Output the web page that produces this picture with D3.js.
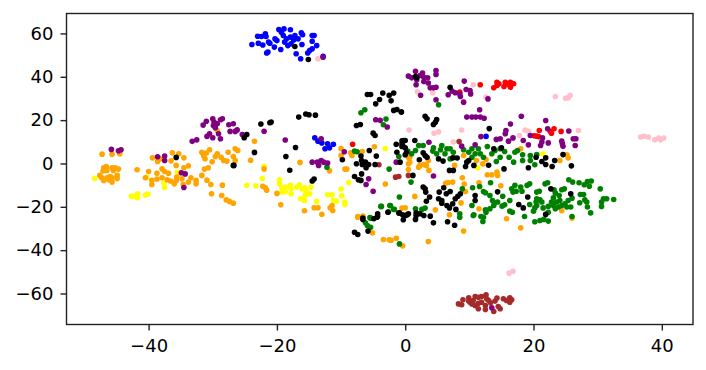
<!DOCTYPE html>
<html>
<head>
<meta charset="utf-8">
<script src="https://cdn.jsdelivr.net/npm/d3@7"></script>
<style>
  html, body { margin: 0; padding: 0; background: #fff; }
  svg { display: block; }
</style>
</head>
<body>
<script>
// Points, [x, y] in data units, one list per colour
const pinkPoints = [[-13.6,48.3],[10.6,36.3],[1.9,33.1],[4.3,32.6],[12.6,30.6],[23.4,30.9],[25,30.1],[25.4,30.3],[25.7,31.4],[0.6,15.4],[4.5,13.9],[5.2,14.6],[8.8,15.4],[7.5,9.9],[17.8,12.9],[18.7,15.4],[19.2,14.9],[27,15.2],[36.7,12.2],[37.2,12.5],[37.9,12.2],[38.9,11],[39.5,11.7],[40.3,11.7],[39.8,10.9],[16.2,-50.6],[16.8,-49.7]];
const redPoints = [[-8.2,8.9],[11.7,36.3],[8.5,32.9],[13.8,34.9],[14.3,36],[14.6,36.8],[15.6,37.5],[15.4,35.5],[16.1,36.5],[16.4,35.2],[16.9,36.8],[16.4,37.5],[14.3,37.5],[20.9,15.2],[20.1,12.8],[20.5,12.6],[20.8,12.4],[22.6,14.9],[22.8,14],[23.2,16],[24.3,14.8]];
const yellowPoints = [[-48.4,-6.8],[-40.3,-6.3],[-35.5,-4.1],[-37.6,-9.1],[-37.5,-11.1],[-42.7,-15.1],[-42.3,-15.1],[-41.7,-14],[-41.7,-15.8],[-40.5,-14.6],[-40.1,-14.1],[-22,-1.4],[-22.3,-6.9],[-24.7,-10.1],[-23.3,-10.3],[-19.6,-7.5],[-19.6,-9.4],[-19.2,-11.2],[-18.7,-10.9],[-19.2,-13],[-18.7,-13],[-17.9,-10.1],[-17.8,-11.7],[-17.8,-14],[-16.9,-10.9],[-16.5,-9.8],[-16.1,-11.7],[-15.6,-11.2],[-14.7,-10.9],[-15.4,-13.2],[-14.9,-14],[-15.6,-14.8],[-16.3,-16.3],[-15.7,-17.1],[-13.8,-17.5],[-12.1,-14.4],[-11.4,-14.4],[-11.2,-17.1],[-10.7,-17.4],[-10,-11.8],[-9.9,-14.9],[-9.4,-17.8],[-9.4,-18.9],[-8.8,-8.8],[-3.1,6.9],[21.5,4.5],[11.3,-2]];
const orangePoints = [[-47.25,4.3],[-45.7,4.2],[-44.5,4.5],[-47,-2],[-46.6,-1.4],[-47.1,-3.5],[-46.5,-3.2],[-45.7,-2],[-45.2,-2],[-44.7,-2.6],[-45.5,-3.2],[-47.6,-5.5],[-47.3,-6.6],[-47,-7.8],[-46.5,-6.6],[-46,-6],[-45.7,-6.6],[-44.9,-5.5],[-44.9,-6.9],[-45.7,-8.6],[-46.2,-7.5],[-41.8,-2.9],[-40,-3.7],[-39.4,2.6],[-38.2,2.2],[-38.6,0.9],[-36.3,4.9],[-35.3,4.5],[-34.5,2.6],[-36.5,1.2],[-35.7,-0.9],[-33.8,-1.1],[-34.5,-2],[-37.9,-2.5],[-37.5,-3.7],[-38.7,-4.5],[-36.9,-4.5],[-40.5,-6.6],[-39.5,-7.8],[-38.7,-7.2],[-39.5,-9.7],[-37.9,-6.6],[-37.1,-7.5],[-36.6,-8.1],[-36,-9.4],[-35.6,-6.3],[-35.7,-7.8],[-34.8,-7.1],[-34.6,-9.7],[-33.4,-6.6],[-33.8,-8.6],[-32.6,-7.8],[-32.6,-9.4],[-31.7,5.1],[-31,4.8],[-30.5,6.3],[-31.4,3.4],[-31.2,2.2],[-29.3,4.5],[-29.6,3.2],[-30.1,0.8],[-28.7,2.9],[-28.3,1.4],[-27.8,1.1],[-27.6,5.2],[-26.8,3.2],[-26.5,6.8],[-26.1,6],[-26.5,1.4],[-30.7,-2],[-31.3,-2.6],[-31.7,-5.5],[-30.9,-7.7],[-30.3,-9.7],[-28.5,-10],[-30.2,-14],[-28.6,-14.8],[-27.9,-16.8],[-27.4,-17.5],[-26.8,-18.3],[-29.3,15.2],[-23.5,10.2],[-16.4,0.5],[-24.1,1.5],[-22.2,-10.5],[-21.8,-11.2],[-21.6,-12.3],[-20,-13.8],[-19.4,-19.1],[-22,-2.5],[-15.7,-21.8],[-14.2,-20.4],[-13.6,-20.4],[-13,-23.4],[-11.4,-19.4],[-11.7,-20.4],[-11.3,-21.7],[-10,6.9],[-10,3.7],[-9.4,-2.6],[-9.1,-2.6],[-11.8,-3.4],[-8.5,4.9],[-8.3,3.7],[-6.7,5.5],[-4.8,7.7],[-3.1,-9.5],[-7.4,-24.5],[0,-20.4],[-7.4,-24.8],[-6.6,-24.3],[-5.1,-32],[-3.4,-35.1],[-2.5,-35.2],[-2.2,-35.5],[-1.4,-34.5],[-0.4,-38],[3.6,-36],[-0.5,-20.6],[1.5,-15.2],[4.7,-21.4],[6.9,-23.7],[9.1,-31.2],[8.7,-18.2],[8.9,-6.6],[9.2,-9.5],[9.4,-12.9],[6.3,-9.1],[6.7,-8.8],[7.4,-8.6],[11.5,-8.9],[11.5,-20.9],[14.9,-10.3],[15.8,-25.5],[18,-29.7],[24.4,-21.8],[26,-25.2],[0.7,2.9],[0.7,0.6],[0.5,-2.8],[2.3,-0.9],[2.9,-0.5],[3.3,-0.9],[2.1,-1.7],[3.6,1.4],[3.7,-3.2],[0.5,-0.1],[9.1,3.7],[7.7,-0.9],[11.1,1.4],[12.1,-0.2],[12.6,1.8],[12.8,-5.2],[13.5,-5.2],[14.3,-4],[14.4,-5.5],[18,6.8],[24.1,1.4],[25.4,2.6],[25.2,4],[0.5,2.9]];
const greenPoints = [[-12.2,-1.7],[-7.9,5.7],[-7.5,5.4],[-2.5,-2.6],[-3,20.5],[-3.4,17.9],[-6.9,23.4],[-6.3,24.8],[-1,3.2],[-0.9,-15.5],[-3.8,-19.8],[-2.4,-19.4],[-1.8,-21.1],[-2.6,-22.3],[-5.5,-25],[-3.7,-19.8],[-2.3,-19.4],[-1.7,-21.2],[-5.4,-25.2],[-6.2,-27.4],[-5.9,-28.6],[-5.4,-29.4],[-0.9,-37.1],[0.9,-8.6],[1.6,-20.9],[2.6,-21.2],[3.1,-20.6],[8.5,-23.2],[8.5,-24.8],[10.6,-24],[10.4,-19.4],[8.9,-11.7],[10.5,-11.2],[11.6,-10.6],[13.3,-8.9],[12.2,-12.9],[12.5,-13.5],[13.2,-14.8],[10.7,-23.7],[11.8,-24.5],[12.2,-24.8],[12.1,-26.8],[12.5,-21.4],[12.6,-22.5],[13.2,-20.9],[13.6,-17.1],[13.9,-18.1],[13.8,-19.4],[14.4,-17.8],[15.2,-15.1],[15.1,-19.7],[15.5,-19.1],[16.3,-17.1],[16.3,-22],[16.7,-22.5],[18.6,-24.5],[16.6,-11.7],[17.1,-10.1],[17.3,-12.8],[16.8,-13.2],[18,-10.9],[18.2,-12.8],[19,-10.1],[19.4,-9.4],[19.4,-18.9],[20.5,-13.2],[20.9,-12.8],[20.5,-16.3],[21,-16.8],[20.4,-17.8],[21.3,-17.8],[20.5,-19.4],[20.2,-20.5],[20,-22],[21.5,-20.5],[22.3,-19.8],[22.3,-22.5],[20.2,-26.9],[21,-26.3],[21.6,-25.8],[22.3,-26.6],[21.8,-9.4],[22.2,-8.9],[23.2,-12.1],[23.4,-13.7],[23.1,-15.8],[24,-14.8],[24.4,-12.1],[24.8,-11.7],[22.8,-17.8],[23.1,-19.4],[23.6,-17.8],[24.1,-17.1],[24.4,-19.4],[24.9,-18.6],[25.4,-17.1],[26,-16],[25.2,-20.1],[25.8,-20.1],[23.9,-20.1],[23.4,-20.9],[25.5,-7.5],[26.1,-8.6],[27.1,-8.9],[27.9,-9.8],[28.4,-8.3],[29,-8.1],[28.7,-10.5],[30.4,-11.7],[27.3,-14.3],[27.8,-14.3],[27.2,-18.1],[28,-16.8],[28.3,-17.8],[28.4,-20.1],[28.9,-22.8],[30.9,-16.3],[30.6,-17.8],[30.6,-19.8],[31.4,-16.3],[32.5,-16.6],[26,-24.5],[5.2,27.1],[2.1,8.3],[2.8,8.3],[1.6,6],[0.4,5.7],[1,4.5],[4.4,7.2],[4.3,5.7],[4.9,4.5],[5.7,8.3],[5.5,6.3],[6.5,6.8],[7,6.8],[6.2,4.5],[7.5,5.2],[7.5,2.9],[7,2.1],[9.1,6.3],[9.9,5.2],[10.4,6.8],[10.9,4.5],[11.4,6.8],[11.7,4.5],[12.2,2.9],[12.8,7.8],[10.4,2.9],[13.5,4.5],[14,6],[14.8,6.8],[15.5,5.5],[14.2,0.9],[14.8,2.9],[16.2,2.9],[17.1,5.2],[17.5,6],[16.9,0.6],[18.3,4],[18.3,1.4],[19.5,3.7],[20.5,4.1],[20.2,-0.6],[19.5,1.4]];
const bluePoints = [[-23.9,54.9],[-23,58.7],[-22.4,58.6],[-21.8,59.8],[-21.7,58.6],[-22.9,55.5],[-22.2,54.7],[-21.3,56],[-21.1,55.5],[-21.4,51.4],[-21.6,51],[-20.3,57.5],[-20,56.7],[-20.4,53.7],[-19.4,52.6],[-19.7,61.8],[-19.3,60.6],[-18.9,62.1],[-17.9,61.7],[-19,59],[-18.5,57.5],[-17.9,58.3],[-17.2,59],[-18.8,56],[-18.3,54.4],[-17.8,55.2],[-17.4,57],[-16.7,57.5],[-16.2,60.3],[-16,59.4],[-16.1,54.9],[-17,50.6],[-16.3,48.3],[-15.2,51],[-14.9,52.1],[-14.5,52.9],[-13.8,54.4],[-14.5,59],[-14.2,59],[-14.5,56.4],[-12.8,49.5],[-14.1,11.9],[-13.6,10.3],[-13,9.5],[-12.5,6.8],[-11.8,7.2],[-12.1,9.1],[-11.2,8.9],[12.6,12.5]];
const brownPoints = [[-4.1,-0.6],[-1.5,-6.3],[-1,-6],[0.5,-5.5],[8.4,10.1],[8.3,-64.8],[8.8,-65.2],[9,-62.9],[9.9,-62],[10.1,-64],[9.9,-63.5],[10.4,-64.8],[10.9,-61.4],[10.6,-63.2],[10.9,-65.5],[11.4,-61.7],[11.4,-64.5],[11.4,-67],[11.9,-61.4],[11.9,-64],[12.5,-65.5],[12.5,-67.4],[12.6,-60.6],[13,-63.2],[12.7,-62.4],[13.3,-64.3],[14.3,-62.1],[14,-63.5],[14.5,-66],[14.8,-67],[13.8,-68.3],[15.3,-62.4],[15.8,-63.2],[16.3,-62],[16.6,-62.9],[16.3,-64]];
const purplePoints = [[-45.8,6.5],[-44.7,5.9],[-44.3,6.3],[-38.6,3.1],[-37.5,3.4],[-37.5,1.4],[-34.9,-4.3],[-34.3,-4.8],[-34.5,-11.1],[-31,19.5],[-31.5,17.7],[-30,20.6],[-29.8,19.1],[-28.5,20.6],[-28.8,20.2],[-29.3,18.3],[-29.9,17.5],[-29.6,16.5],[-27.5,17.9],[-26.8,18.3],[-27.3,14.8],[-26.5,14.8],[-26.2,15.5],[-29.1,13.7],[-30.5,13.7],[-30.9,12.5],[-30,11.9],[-28.8,11.4],[-33.2,10.2],[-32.5,10.9],[-22,14.9],[-25.4,13.4],[-18.7,10.8],[-13.1,11.4],[-14.5,0.6],[-13.1,1.4],[-13.5,-0.9],[-12.7,0.6],[-12.1,0.2],[-13.7,0.6],[-9.5,5.4],[-5.7,-7.1],[-6.1,-9.7],[-5,-12.8],[-4.6,20.2],[-3.9,19.9],[-2.8,16.8],[-1.4,0.6],[4.8,42.9],[4.8,41.1],[0.5,40.3],[1,39.5],[1.6,42.5],[2.7,41.7],[1.7,36.3],[1.8,38.6],[2.3,40.6],[2.9,39.8],[3.5,39.5],[2.9,37.8],[3.6,37.1],[3.9,34.9],[4.4,34.9],[4.8,35.2],[2.4,31.5],[4.8,29.4],[9.2,38],[6.7,31.7],[7.3,33.4],[7.8,32.6],[8.5,32.1],[8.6,30.9],[9.1,28.3],[9.5,34.1],[10.1,33.7],[10.2,32.1],[12.9,29.8],[11.6,24.8],[9.6,21.4],[10.4,21.4],[11,21.4],[11.7,21.4],[12.3,20.9],[18.1,21.8],[16.4,18.2],[15.7,15.2],[15.6,13.7],[14.2,11.1],[14.8,11.4],[11.8,12.4],[10.9,8.6],[8.8,8],[3.7,9.8],[4.4,-5.8],[16.8,11.8],[16.1,10.3],[18.4,10.6],[19.5,12.9],[19.2,8.6],[21.9,19.8],[22.2,16],[21.4,11.8],[21.3,9.9],[21.1,8.3],[22.3,9.5],[25.5,15],[26.2,11.4],[26.6,11.4],[24.4,10.3],[24.5,9.1],[24.6,7.9],[26.5,8.3],[13.5,-66.6],[-12.8,49]];
const blackPoints = [[-35.7,2.8],[-26.8,-0.9],[-22.5,18.2],[-21.1,18.8],[-20.9,19.1],[-16.6,21.4],[-15.5,22.8],[-15,22.5],[-14,22.3],[-24.7,13.4],[-25.1,11.9],[-23.5,5.1],[-18.6,3.2],[-17.1,7.4],[-26.7,-0.9],[-18,-3.1],[-14.2,-7.2],[-14.5,-8.1],[-9.8,1.7],[-7.6,17.5],[-7,18],[-5,14],[-4.7,12.9],[-5.6,6],[-6.9,3.4],[-4.5,3.4],[-7.6,-0.1],[-6.8,1.4],[-6.2,0.6],[-6.7,-0.5],[-5.7,-0.5],[-6.1,-2],[-4.7,-0.5],[-6.8,-4.8],[-7.9,-6],[-7.3,-7.5],[-6.9,-7.8],[-1.4,8.9],[-0.5,10.5],[0,10.6],[-0.4,8.3],[0,7.2],[-1.3,5.2],[0.2,5.2],[-0.8,0.6],[-6.6,-25.2],[-1,-22.9],[0,-24],[0.5,-23.2],[-4.4,-24.8],[-5.9,31.8],[-5.4,31.8],[-3.5,32.5],[-1.8,32.5],[-2.5,31.4],[-4,29.5],[-4.6,27.5],[-2.2,28.9],[-1.8,24.5],[-1.3,24.9],[-0.6,23.7],[-7.9,-31.7],[-7.4,-32.8],[-6.6,-25.8],[-5.8,-31.2],[-4.9,-25.5],[-4.3,-23.2],[-4.3,-24.3],[-2.7,-22.5],[-0.9,-22.8],[-0.4,-23.7],[0.3,-23.7],[-0.3,-26],[1.7,-22.8],[1.7,-24],[1.6,-25.8],[2.3,-23.2],[2.9,-24],[3.9,-24.3],[4.4,-27.4],[2.8,-10.9],[3.1,-11.7],[3.2,-13.2],[3.8,-15.5],[3.3,-17.4],[5.3,-13.2],[5.2,-16.3],[5.7,-17.1],[5.7,-18.3],[6,-11.2],[6.4,-14],[7,-12.9],[6.5,-19.4],[6.9,-20.5],[7.8,-16.3],[8.2,-15.1],[8.6,-14],[7.4,-18.6],[7.9,-21.2],[6.6,-26.9],[7.7,-28.5],[10.9,-14.8],[10.9,-17.1],[14.4,-13.1],[19.1,-15.5],[17.7,-18.9],[18.4,-20.5],[22.7,-11.7],[25.8,-14],[21.9,-23.5],[1.6,40.1],[1.8,39.5],[7,35.2],[-0.6,23.7],[3.1,21.8],[3.4,20.6],[4.9,20.3],[4.7,19],[4.4,18],[13.1,16.1],[-0.3,10.6],[-0.5,9.1],[1.5,10.6],[2.8,4.9],[3.1,3.7],[3.4,2.9],[2.2,1.7],[0,4],[1.2,-5.5],[-0.5,7.8],[5.2,2.1],[5.9,1.1],[7.4,2.5],[8.1,2.5],[6.9,-3.2],[7.5,-3.2],[9.6,0.6],[9.9,1.4],[9.4,-1.4],[10.7,-0.9],[13,-0.8],[13.8,6.8],[15,7.2],[15.4,-2.5],[19.2,-2],[20.4,2.9],[21.9,2.6],[21.3,0.9],[21.9,-0.5],[23.3,1.4],[22.9,-1.4],[24.6,4.1],[25.9,-1.1],[-17.2,54],[-15.1,48]];

const seriesColors = ["pink", "red", "yellow", "orange", "green", "blue", "brown", "purple", "black"];
const seriesPoints = [pinkPoints, redPoints, yellowPoints, orangePoints, greenPoints, bluePoints, brownPoints, purplePoints, blackPoints];
const xTicks = [-40, -20, 0, 20, 40];
const yTicks = [-60, -40, -20, 0, 20, 40, 60];

// Chart dimensions and margins
const width = 706;
const height = 370;
const marginTop = 13.5;
const marginRight = 13;
const marginBottom = 45.5;
const marginLeft = 66.5;

const x = d3.scaleLinear()
  .domain([-52.8, 44.86])
  .range([marginLeft, width - marginRight]);

const y = d3.scaleLinear()
  .domain([-74.3, 69.2])
  .range([height - marginBottom, marginTop]);

const svg = d3.select("body")
  .append("svg")
  .attr("width", width)
  .attr("height", height)
  .attr("viewBox", [0, 0, width, height]);

// Points, one group per colour
seriesPoints.forEach((points, i) => {
  svg.append("g")
    .attr("fill", seriesColors[i])
    .selectAll("circle")
    .data(points)
    .join("circle")
    .attr("cx", d => x(d[0]))
    .attr("cy", d => y(d[1]))
    .attr("r", 2.8);
});

// Frame
svg.append("rect")
  .attr("x", marginLeft)
  .attr("y", marginTop)
  .attr("width", width - marginLeft - marginRight)
  .attr("height", height - marginTop - marginBottom)
  .attr("fill", "none")
  .attr("stroke", "#222")
  .attr("stroke-width", 1.4);

// Axes
const xAxis = svg.append("g")
  .attr("transform", `translate(0,${height - marginBottom})`)
  .call(d3.axisBottom(x).tickValues(xTicks).tickSize(6).tickPadding(8.5));

const yAxis = svg.append("g")
  .attr("transform", `translate(${marginLeft},0)`)
  .call(d3.axisLeft(y).tickValues(yTicks).tickSize(6).tickPadding(7));

[xAxis, yAxis].forEach(axis => {
  axis.select(".domain").remove();
  axis.selectAll(".tick line").attr("stroke", "#222").attr("stroke-width", 1.4);
  axis.selectAll(".tick text")
    .style("font-family", "'DejaVu Sans', sans-serif")
    .style("font-size", "18px")
    .attr("fill", "#000");
});
</script>
</body>
</html>
